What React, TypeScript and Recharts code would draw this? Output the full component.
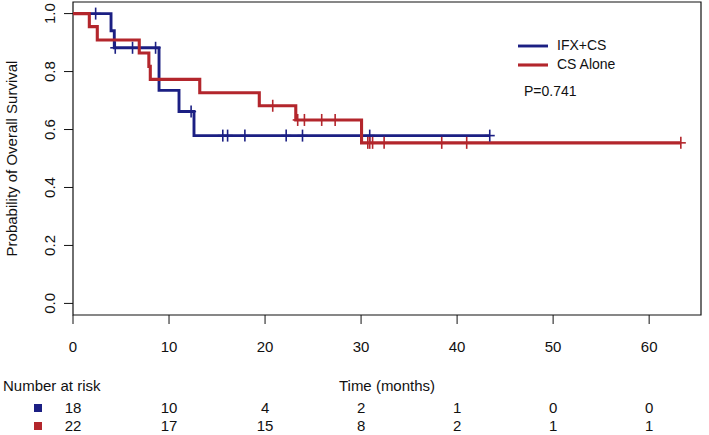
import { ComposedChart, Line, Scatter, XAxis, YAxis, ReferenceArea } from "recharts";

// Kaplan-Meier steps (time in months, survival probability)
const ifxTimes = [0, 3.96, 4.3, 8.96, 11.04, 12.6, 43.4];
const ifxSurv = [1, 0.941, 0.882, 0.735, 0.662, 0.579, 0.579];
const ifxCensored = [2.36, 4.4, 6.2, 8.6, 12.3, 15.6, 16.1, 17.9, 22.2, 23.9, 30.9, 43.4];

const csTimes = [0, 1.7, 2.53, 6.9, 7.9, 8.05, 13.2, 19.4, 23.2, 30.05, 63.3];
const csSurv = [1, 0.955, 0.909, 0.864, 0.818, 0.773, 0.727, 0.682, 0.633, 0.554, 0.554];
const csCensored = [20.8, 23.4, 24.1, 25.9, 27.3, 30.7, 30.9, 31.2, 32.4, 38.4, 41.0, 63.3];

const xTicks = [0, 10, 20, 30, 40, 50, 60];
const yTicks = [0, 0.2, 0.4, 0.6, 0.8, 1.0];
const riskIfx = [18, 10, 4, 2, 1, 0, 0];
const riskCs = [22, 17, 15, 8, 2, 1, 1];

const BLUE = "#1b1f83";
const RED = "#b3262c";
const FONT = "'Liberation Sans', Arial, sans-serif";
const X_MAX = 65.4;

const toPoints = (times: number[], surv: number[]) => times.map((t, i) => ({ t, s: surv[i] }));

// survival value at a censoring time = last step at or before it
const censorPoints = (censored: number[], times: number[], surv: number[]) =>
  censored.map((t) => {
    let s = surv[0];
    times.forEach((tt, i) => {
      if (tt <= t) s = surv[i];
    });
    return { t, s };
  });

const ifxCurve = toPoints(ifxTimes, ifxSurv);
const csCurve = toPoints(csTimes, csSurv);
const ifxMarks = censorPoints(ifxCensored, ifxTimes, ifxSurv);
const csMarks = censorPoints(csCensored, csTimes, csSurv);

const Plus = (color: string) => (props: any) => {
  const { cx, cy } = props;
  if (cx == null || cy == null) return <g />;
  return (
    <g stroke={color} strokeWidth={1.6}>
      <line x1={cx - 5} x2={cx + 5} y1={cy} y2={cy} />
      <line x1={cx} x2={cx} y1={cy - 6} y2={cy + 6} />
    </g>
  );
};

const XTick = (props: any) => {
  const { x, y, payload } = props;
  return (
    <text x={x} y={y} dy="0.71em" textAnchor="middle" fontSize={15} fill="#111" fontFamily={FONT}>
      {payload.value}
    </text>
  );
};

const YTick = (props: any) => {
  const { x, y, payload } = props;
  return (
    <text x={x} y={y} transform={`rotate(-90 ${x} ${y})`} textAnchor="middle" fontSize={15} fill="#111" fontFamily={FONT}>
      {payload.value.toFixed(1)}
    </text>
  );
};

const riskTick = (values: number[]) => (props: any) => {
  const { x, y, index } = props;
  return (
    <text x={x} y={y} dy={18} textAnchor="middle" fontSize={15} fill="#111" fontFamily={FONT}>
      {values[index]}
    </text>
  );
};

const TimeLabel = (props: any) => {
  const { viewBox } = props;
  return (
    <text x={viewBox.x + viewBox.width / 2} y={viewBox.y + 76} textAnchor="middle" fontSize={15} fill="#111" fontFamily={FONT}>
      Time (months)
    </text>
  );
};

const RiskLabel = (props: any) => {
  const { viewBox, color, title } = props;
  return (
    <g>
      {title && (
        <text x={3} y={viewBox.y - 4} fontSize={15} fill="#111" fontFamily={FONT}>
          {title}
        </text>
      )}
      <rect x={34} y={viewBox.y + 9} width={8} height={8} fill={color} />
    </g>
  );
};

const YLabel = (props: any) => {
  const { viewBox } = props;
  const cx = 17;
  const cy = viewBox.y + viewBox.height / 2;
  return (
    <text x={cx} y={cy} transform={`rotate(-90 ${cx} ${cy})`} textAnchor="middle" fontSize={15} fill="#111" fontFamily={FONT}>
      Probability of Overall Survival
    </text>
  );
};

export default function App() {
  return (
    <div style={{ position: "relative", width: 709, height: 435, background: "#fff" }}>
      <style>{"body{margin:0}"}</style>
      <ComposedChart width={709} height={435} margin={{ top: 2, right: 8, bottom: 4, left: 0 }}>
        <XAxis
          xAxisId="a_main"
          dataKey="t"
          type="number"
          domain={[0, X_MAX]}
          ticks={xTicks}
          interval={0}
          allowDataOverflow
          axisLine={false}
          tickLine={{ stroke: "#111" }}
          tickSize={9}
          tickMargin={17}
          tick={XTick}
          height={80}
          label={<TimeLabel />}
        />
        <XAxis
          xAxisId="b_riskIfx"
          dataKey="t"
          type="number"
          domain={[0, X_MAX]}
          ticks={xTicks}
          interval={0}
          allowDataOverflow
          axisLine={false}
          tickLine={false}
          tickSize={0}
          tickMargin={0}
          tick={riskTick(riskIfx)}
          height={18}
          label={<RiskLabel color={BLUE} title="Number at risk" />}
        />
        <XAxis
          xAxisId="c_riskCs"
          dataKey="t"
          type="number"
          domain={[0, X_MAX]}
          ticks={xTicks}
          interval={0}
          allowDataOverflow
          axisLine={false}
          tickLine={false}
          tickSize={0}
          tickMargin={0}
          tick={riskTick(riskCs)}
          height={18}
          label={<RiskLabel color={RED} />}
        />
        <YAxis
          dataKey="s"
          type="number"
          domain={[-0.04, 1.04]}
          ticks={yTicks}
          interval={0}
          allowDataOverflow
          axisLine={false}
          tickLine={{ stroke: "#111" }}
          tickSize={9}
          tickMargin={9}
          tick={YTick}
          width={73}
          label={<YLabel />}
        />
        <ReferenceArea xAxisId="a_main" x1={0} x2={X_MAX} y1={-0.04} y2={1.04} fill="none" stroke="#111" strokeWidth={1.2} ifOverflow="visible" />
        <Line xAxisId="a_main" data={ifxCurve} dataKey="s" type="stepAfter" stroke={BLUE} strokeWidth={2.9} dot={false} isAnimationActive={false} />
        <Line xAxisId="a_main" data={csCurve} dataKey="s" type="stepAfter" stroke={RED} strokeWidth={3.1} dot={false} isAnimationActive={false} />
        <Scatter xAxisId="a_main" data={ifxMarks} dataKey="s" shape={Plus(BLUE)} isAnimationActive={false} />
        <Scatter xAxisId="a_main" data={csMarks} dataKey="s" shape={Plus(RED)} isAnimationActive={false} />
      </ComposedChart>
      <div style={{ position: "absolute", left: 518, top: 36, fontFamily: FONT, fontSize: 14, color: "#111", lineHeight: "19px" }}>
        <div style={{ display: "flex", alignItems: "center" }}>
          <svg width={30} height={6} style={{ marginRight: 9 }}>
            <line x1={0} x2={30} y1={3} y2={3} stroke={BLUE} strokeWidth={2.9} />
          </svg>
          IFX+CS
        </div>
        <div style={{ display: "flex", alignItems: "center" }}>
          <svg width={30} height={6} style={{ marginRight: 9 }}>
            <line x1={0} x2={30} y1={3} y2={3} stroke={RED} strokeWidth={3.1} />
          </svg>
          CS Alone
        </div>
        <div style={{ marginLeft: 6, marginTop: 8 }}>P=0.741</div>
      </div>
    </div>
  );
}
